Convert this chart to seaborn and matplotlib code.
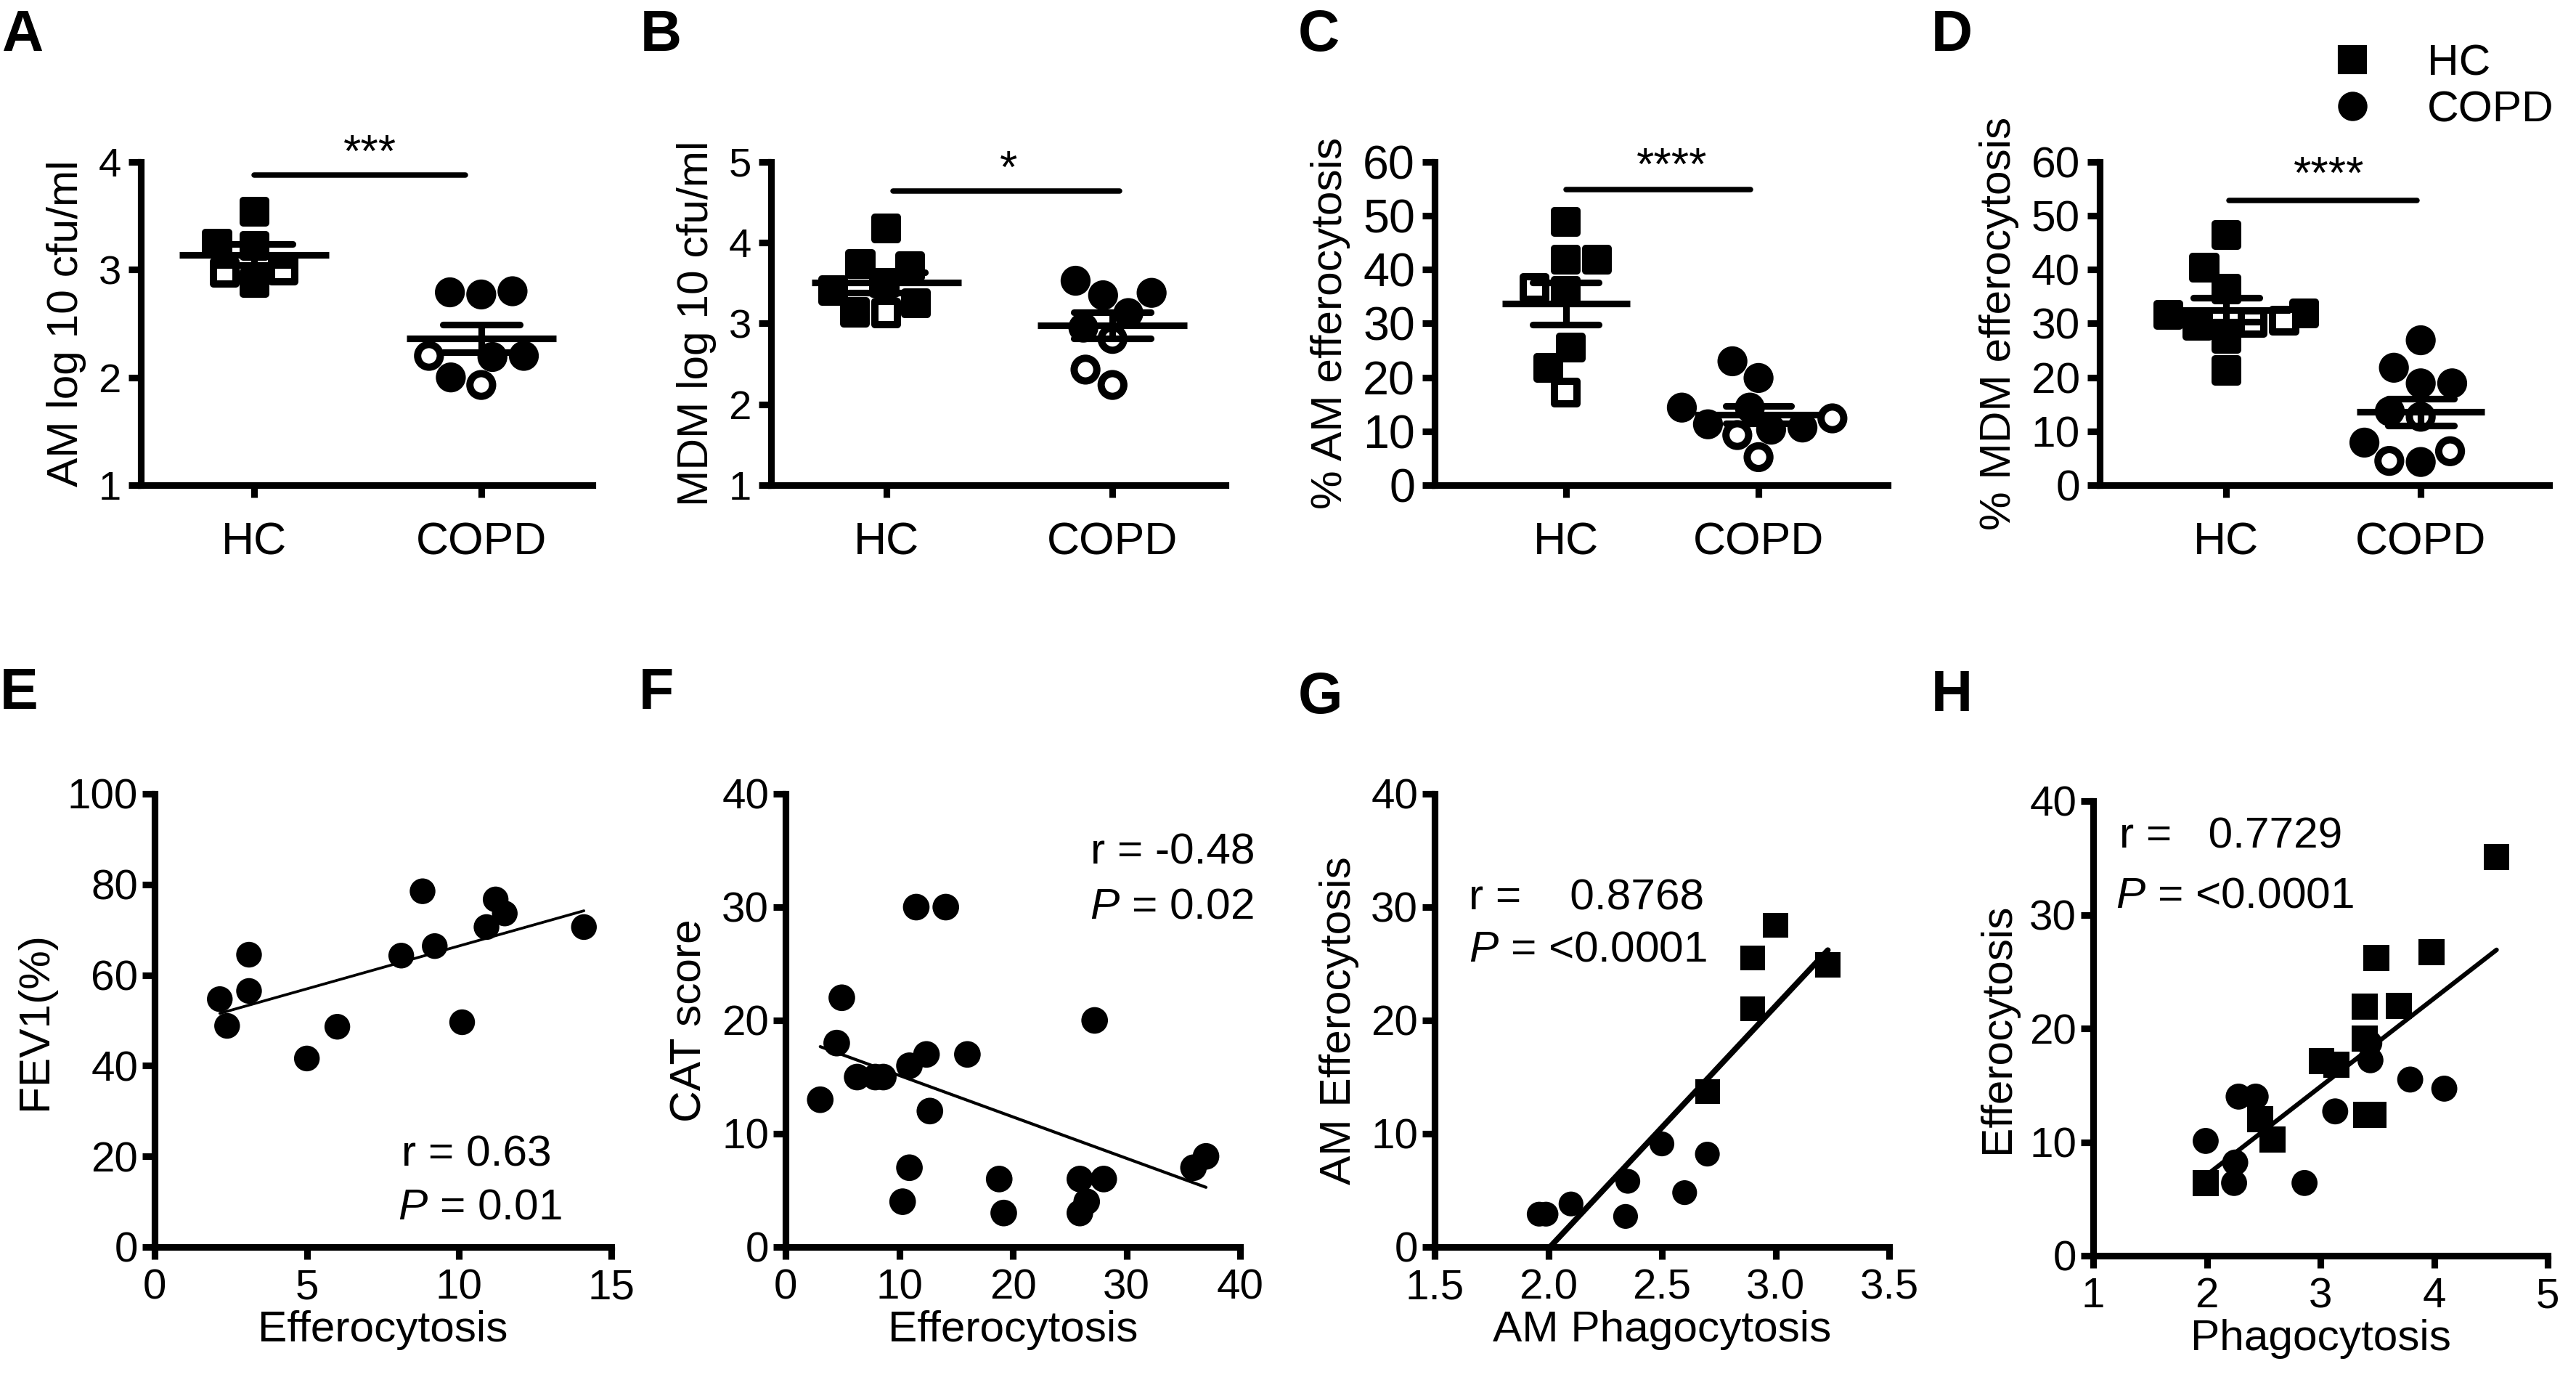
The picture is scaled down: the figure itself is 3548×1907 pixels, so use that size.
import numpy as np
import pandas as pd
import matplotlib
matplotlib.use('Agg')
import matplotlib.pyplot as plt
from matplotlib.lines import Line2D
import seaborn as sns

GROUPS = ['HC', 'COPD']
MARKERS = {'HC': 's', 'COPD': 'o'}

# ---- A: AM log 10 cfu/ml (filled / open symbols) ----
A_HC = [3.22, 2.88, 3.54, 3.24]
A_HC_OPEN = [2.97, 2.99]
A_COPD = [2.79, 2.80, 2.77, 2.20, 2.19, 2.00]
A_COPD_OPEN = [2.20, 1.93]

# ---- B: MDM log 10 cfu/ml ----
B_HC = [4.18, 3.50, 3.14, 3.71, 3.74, 3.25, 3.41]
B_HC_OPEN = [3.13]
B_COPD = [3.53, 3.13, 3.38, 3.35, 2.95]
B_COPD_OPEN = [2.81, 2.43, 2.24]

# ---- C: % AM efferocytosis ----
C_HC = [48.9, 41.9, 41.9, 36.1, 25.6, 21.8]
C_HC_OPEN = [36.6, 17.2]
C_COPD = [23.0, 19.9, 14.4, 14.4, 10.3, 10.7, 11.3]
C_COPD_OPEN = [12.4, 9.3, 5.2]

# ---- D: % MDM efferocytosis ----
D_HC = [46.4, 40.4, 36.4, 31.9, 31.6, 29.6, 27.2, 21.3]
D_HC_OPEN = [30.5, 30.2]
D_COPD = [26.9, 21.8, 18.9, 18.9, 13.7, 7.9, 4.3]
D_COPD_OPEN = [12.7, 4.5, 6.3]

# ---- E: FEV1 vs efferocytosis (COPD) ----
E_EFFERO = [2.14, 2.38, 3.1, 3.1, 5.0, 6.0, 8.1, 8.8, 9.2, 10.1, 10.9, 11.2, 11.5, 14.1]
E_FEV1 = [54.7, 48.8, 64.5, 56.5, 41.6, 48.6, 64.3, 78.5, 66.4, 49.6, 70.6, 76.7, 73.6, 70.6]

# ---- F: CAT score vs efferocytosis (COPD) ----
F_EFFERO = [3.05, 4.5, 4.95, 6.3, 7.9, 8.6, 10.9, 12.4, 12.7, 11.5, 14.1, 16.0,
            10.9, 10.3, 18.8, 19.2, 27.2, 25.9, 26.5, 25.9, 28.0, 35.9, 37.0]
F_CAT = [13, 18, 22, 15, 15, 15, 16, 17, 12, 30, 30, 17,
         7, 4, 6, 3, 20, 6, 4, 3, 6, 7, 8]

# ---- G: AM efferocytosis vs AM phagocytosis ----
G_PHAGO_HC = [2.70, 2.90, 2.90, 3.00, 3.23]
G_EFFERO_HC = [13.7, 21.0, 25.5, 28.4, 24.9]
G_PHAGO_COPD = [1.96, 1.99, 2.10, 2.35, 2.34, 2.50, 2.60, 2.70]
G_EFFERO_COPD = [2.9, 2.9, 3.8, 5.8, 2.7, 9.1, 4.8, 8.2]

# ---- H: efferocytosis vs phagocytosis ----
H_PHAGO_HC = [4.55, 3.98, 3.49, 3.39, 3.69, 3.39, 3.01, 3.14, 3.47, 3.40, 2.47, 2.58, 1.99]
H_EFFERO_HC = [35.1, 26.7, 26.2, 21.9, 22.0, 19.1, 17.1, 16.8, 12.4, 12.4, 12.0, 10.2, 6.4]
H_PHAGO_COPD = [3.43, 3.44, 2.28, 2.43, 3.13, 3.79, 4.09, 1.99, 2.25, 2.24, 2.86]
H_EFFERO_COPD = [18.7, 17.2, 14.0, 14.0, 12.7, 15.5, 14.7, 10.1, 8.2, 6.4, 6.4]

W, H, DPI = 3548, 1907, 300
LW = 2.2

sns.set_style('ticks')
plt.rcParams['font.family'] = ['Liberation Sans', 'DejaVu Sans']
plt.rcParams['mathtext.fontset'] = 'custom'
plt.rcParams['mathtext.rm'] = 'Liberation Sans'
plt.rcParams['mathtext.it'] = 'Liberation Sans:italic'
for k in ['axes.edgecolor', 'xtick.color', 'ytick.color', 'text.color', 'axes.labelcolor']:
    plt.rcParams[k] = 'black'
plt.rcParams['axes.linewidth'] = LW

fig = plt.figure(figsize=(W / DPI, H / DPI), dpi=DPI)


def px_axes(left, top, right, bottom):
    return fig.add_axes([left / W, 1 - bottom / H, (right - left) / W, (bottom - top) / H])


def style_axes(ax, xsize, ysize, xpad, ypad):
    sns.despine(ax=ax)
    ax.tick_params(axis='both', length=4, width=LW, color='black')
    ax.tick_params(axis='x', labelsize=xsize, pad=xpad)
    ax.tick_params(axis='y', labelsize=ysize, pad=ypad)


def dot_panel(ax, hc, hc_open, copd, copd_open, ylim, ystep, ylabel, xlim, sig, stars, ysize):
	df = pd.DataFrame({
		'group': ['HC'] * (len(hc) + len(hc_open)) + ['COPD'] * (len(copd) + len(copd_open)),
		'value': hc + hc_open + copd + copd_open,
		'fill': ['filled'] * len(hc) + ['open'] * len(hc_open) + ['filled'] * len(copd) + ['open'] * len(copd_open),
	})
	for grp in GROUPS:
		sns.swarmplot(data=df[df.group == grp], x='group', y='value', hue='fill', order=GROUPS,
		              hue_order=['filled', 'open'], palette={'filled': 'black', 'open': 'white'},
		              marker=MARKERS[grp], size=7.5, edgecolor='black', linewidth=2.4,
		              legend=False, ax=ax, zorder=2)
	unit_pts = ax.get_position().width * fig.get_figwidth() * 72 / (xlim[1] - xlim[0])
	sns.pointplot(data=df, x='group', y='value', order=GROUPS, errorbar='se', color='black',
	              marker='_', markersize=0.66 * unit_pts, markeredgewidth=LW, linestyle='none',
	              capsize=0.34, err_kws={'linewidth': LW}, ax=ax, zorder=3)
	ax.set_xlim(*xlim)
	ax.set_ylim(*ylim)
	ax.set_yticks(np.arange(ylim[0], ylim[1] + ystep / 2, ystep))
	ax.set_xlabel('')
	ax.set_ylabel(ylabel, fontsize=14.5)
	x0, x1, y = sig
	ax.plot([x0, x1], [y, y], color='black', lw=1.8, solid_capstyle='round', clip_on=False)
	ax.text(stars[1], stars[2], stars[0], ha='center', va='center', fontsize=15, clip_on=False)
	style_axes(ax, 15, ysize, 8, 2.5)


def corr_panel(ax, hc_x, hc_y, copd_x, copd_y, xlim, xticks, ylim, yticks, xlabel, ylabel, line_w, msize, notes):
	df = pd.DataFrame({'x': hc_x + copd_x, 'y': hc_y + copd_y,
	                   'group': ['HC'] * len(hc_x) + ['COPD'] * len(copd_x)})
	sns.regplot(data=df, x='x', y='y', scatter=False, ci=None, color='black',
	            line_kws={'linewidth': line_w}, ax=ax)
	mk = {g: MARKERS[g] for g in GROUPS if g in set(df.group)}
	sns.scatterplot(data=df, x='x', y='y', style='group', markers=mk, color='black',
	                s=msize ** 2, linewidth=0, legend=False, ax=ax, clip_on=False, zorder=3)
	ax.set_xlim(*xlim)
	ax.set_ylim(*ylim)
	ax.set_xticks(xticks)
	ax.set_yticks(yticks)
	ax.set_xlabel(xlabel, fontsize=14.5, labelpad=1.0)
	ax.set_ylabel(ylabel, fontsize=14.5)
	for txt, x, y, ha in notes:
		ax.text(x, y, txt, ha=ha, va='center', fontsize=14.5)
	style_axes(ax, 14, 14, 3, 1.5)


axA = px_axes(194, 223, 816, 668)
dot_panel(axA, A_HC, A_HC_OPEN, A_COPD, A_COPD_OPEN, (1, 4), 1, 'AM log 10 cfu/ml',
          (-0.5, 1.49), (0, 0.93, 3.88), ('***', 0.51, 4.07), 13.5)
axB = px_axes(1062, 223, 1688, 668)
dot_panel(axB, B_HC, B_HC_OPEN, B_COPD, B_COPD_OPEN, (1, 5), 1, 'MDM log 10 cfu/ml',
          (-0.51, 1.5), (0.03, 1.03, 4.64), ('*', 0.54, 4.9), 13.5)
axC = px_axes(1976, 223, 2600, 668)
dot_panel(axC, C_HC, C_HC_OPEN, C_COPD, C_COPD_OPEN, (0, 60), 10, '% AM efferocytosis',
          (-0.68, 1.67), (0, 0.96, 54.9), ('****', 0.55, 59), 15.5)
axD = px_axes(2892, 223, 3511, 668)
dot_panel(axD, D_HC, D_HC_OPEN, D_COPD, D_COPD_OPEN, (0, 60), 10, '% MDM efferocytosis',
          (-0.65, 1.66), (0.015, 0.98, 52.9), ('****', 0.53, 57.4), 14.5)

axE = px_axes(213, 1093, 842, 1717)
corr_panel(axE, [], [], E_EFFERO, E_FEV1, (0, 15), [0, 5, 10, 15], (0, 100), np.arange(0, 101, 20),
           'Efferocytosis', 'FEV1(%)', 0.9, 8.5,
           [('r = 0.63', 8.1, 20.3, 'left'), ('$P$ = 0.01', 8.0, 8.7, 'left')])
axF = px_axes(1082, 1093, 1708, 1717)
corr_panel(axF, [], [], F_EFFERO, F_CAT, (0, 40), [0, 10, 20, 30, 40], (0, 40), [0, 10, 20, 30, 40],
           'Efferocytosis', 'CAT score', 1.0, 8.8,
           [('r = -0.48', 41.3, 34.8, 'right'), ('$P$ = 0.02', 41.2, 30.0, 'right')])
axG = px_axes(1976, 1093, 2602, 1717)
corr_panel(axG, G_PHAGO_HC, G_EFFERO_HC, G_PHAGO_COPD, G_EFFERO_COPD, (1.5, 3.5),
           [1.5, 2.0, 2.5, 3.0, 3.5], (0, 40), [0, 10, 20, 30, 40],
           'AM Phagocytosis', 'AM Efferocytosis', 1.9, 8.2,
           [('r =    0.8768', 1.65, 30.8, 'left'), ('$P$ = <0.0001', 1.65, 26.2, 'left')])
axH = px_axes(2883, 1103, 3509, 1729)
corr_panel(axH, H_PHAGO_HC, H_EFFERO_HC, H_PHAGO_COPD, H_EFFERO_COPD, (1, 5), [1, 2, 3, 4, 5],
           (0, 40), [0, 10, 20, 30, 40], 'Phagocytosis', 'Efferocytosis', 1.5, 8.6,
           [('r =   0.7729', 1.23, 36.9, 'left'), ('$P$ = <0.0001', 1.2, 31.6, 'left')])

# panel letters
for letter, (x, y) in zip('ABCDEFGH', [(2, 12), (882, 12), (1788, 12), (2660, 12),
                                        (0, 918), (880, 918), (1788, 924), (2660, 921)]):
	fig.text(x / W, 1 - y / H, letter, fontsize=19, fontweight='bold', va='top', ha='left')

handles = [Line2D([], [], marker=MARKERS[g], ls='none', color='black', markersize=8.7) for g in GROUPS]
fig.legend(handles, GROUPS, loc='upper left', bbox_to_anchor=(3210 / W, 1 - 60 / H), frameon=False,
           fontsize=14.5, handlelength=1.0, handletextpad=1.2, labelspacing=0.15,
           borderpad=0, borderaxespad=0)

fig.savefig('out.png', dpi=DPI)
